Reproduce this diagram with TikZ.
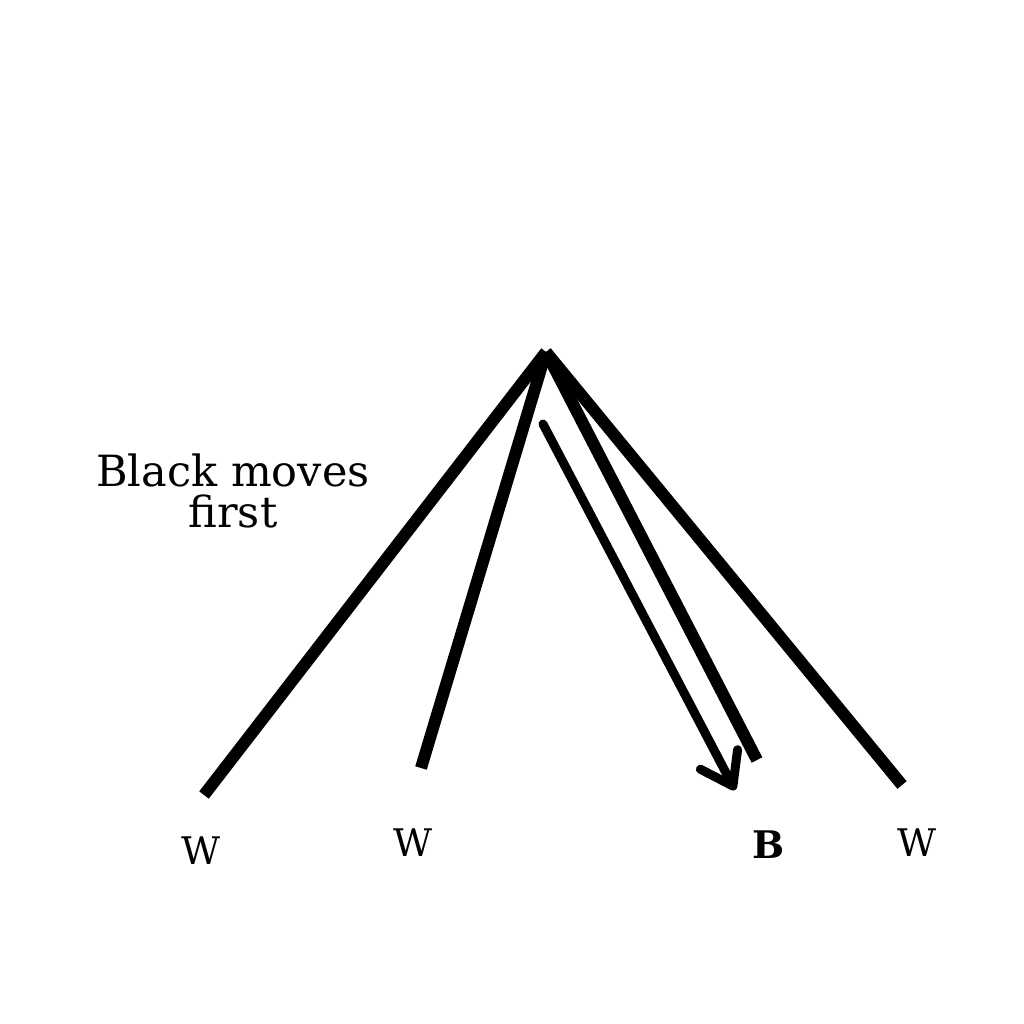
\documentclass[tikz,border=0pt]{standalone}
\usepackage{fontspec}
\setmainfont{DejaVu Serif}
\usetikzlibrary{arrows.meta}
\begin{document}
\begin{tikzpicture}[x=1pt,y=-1pt,
  branch/.style={line width=12pt,line cap=butt},
  movearrow/.style={line width=9pt,line cap=round,-{Straight Barb[length=30pt,width=42pt,line cap=round,line join=round]}},
  leaf/.style={font=\fontsize{38}{42}\selectfont,inner sep=0pt},
  note/.style={font=\fontsize{43}{41}\selectfont,align=center,inner sep=0pt}]
\useasboundingbox (0,0) rectangle (1024,1024);
\coordinate (apex) at (546,352);
\coordinate (e1) at (204,795);
\coordinate (e2) at (421,768);
\coordinate (e3) at (757,760);
\coordinate (e4) at (902,785);
\coordinate (as) at (543,424);
\coordinate (ae) at (735,790);
\draw[branch] (apex) -- (e1);
\draw[branch] (apex) -- (e2);
\draw[branch] (apex) -- (e3);
\draw[branch] (apex) -- (e4);
\draw[movearrow] (as) -- (ae);
\node[leaf] (w1) at (201,851) {W};
\node[leaf] (w2) at (413,843) {W};
\node[leaf,font=\fontsize{38}{42}\selectfont\bfseries] (b) at (769,845) {B};
\node[leaf] (w4) at (917,843) {W};
\node[note] (txt) at (233,491) {Black moves\\first};
\end{tikzpicture}
\end{document}
